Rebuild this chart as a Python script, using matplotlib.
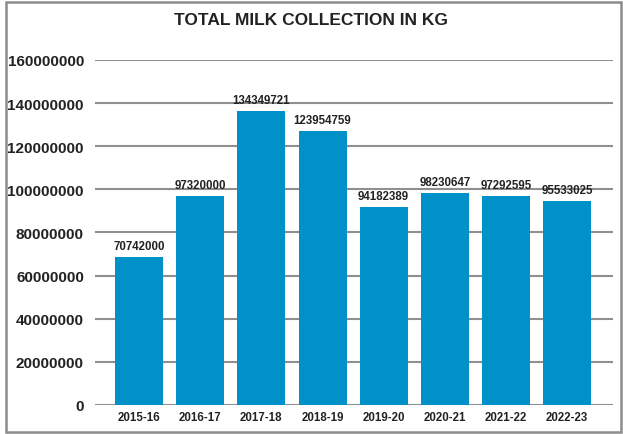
import matplotlib.pyplot as plt
from matplotlib.patches import Rectangle

# data
years = ["2015-16", "2016-17", "2017-18", "2018-19",
         "2019-20", "2020-21", "2021-22", "2022-23"]
bar_heights = [68.8e6, 97.0e6, 136.5e6, 126.9e6, 91.9e6, 98.4e6, 97.1e6, 94.8e6]
bar_labels = ["70742000", "97320000", "134349721", "123954759",
              "94182389", "98230647", "97292595", "95533025"]
yticks = list(range(0, 160000001, 20000000))

plt.rcParams['font.family'] = ['Liberation Sans', 'DejaVu Sans']

fig = plt.figure(figsize=(6.23, 4.35), dpi=100)
ax = fig.add_axes([0.1525, 0.0667, 0.984 - 0.1525, 0.8598 - 0.0667])

x = list(range(len(years)))
bars = ax.bar(x, bar_heights, width=0.785, color="#0091c9", zorder=3)

for b, lab in zip(bars, bar_labels):
    ax.annotate(lab, (b.get_x() + b.get_width() / 2, b.get_height()),
                xytext=(0, 3.5), textcoords="offset points",
                ha="center", va="bottom", fontsize=8.3,
                fontweight="bold", color="#222222")

ax.set_xlim(-0.72, 7.75)
ax.set_ylim(0, 160000000)
ax.set_yticks(yticks)
ax.set_yticklabels([str(v) for v in yticks])
ax.set_xticks(x)
ax.set_xticklabels(years)

ax.yaxis.grid(True, color="#8f8f8f", linewidth=1.5, zorder=0)
ax.set_axisbelow(True)
for s in ax.spines.values():
    s.set_visible(False)
ax.tick_params(axis="both", length=0)
ax.tick_params(axis="y", pad=8, labelsize=11, labelcolor="#222222")
ax.tick_params(axis="x", pad=4, labelsize=8.3, labelcolor="#222222")
for t in ax.get_yticklabels() + ax.get_xticklabels():
    t.set_fontweight("bold")

fig.text(0.5, 0.953, "TOTAL MILK COLLECTION IN KG", ha="center", va="center",
         fontsize=12.5, fontweight="bold", color="#222222")

fig.patches.append(Rectangle((6 / 623, 2 / 435), 615 / 623, 430 / 435,
                             transform=fig.transFigure, fill=False,
                             edgecolor="#8c8c8c", linewidth=1.8))

plt.savefig("out.png", dpi=100)
